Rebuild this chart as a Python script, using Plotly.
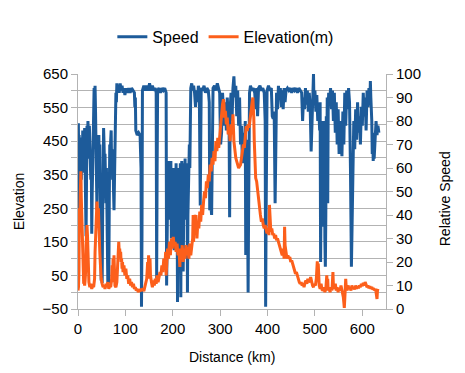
import plotly.graph_objects as go

# ---- Speed (relative, right axis) ----
speed_km = [0, 0.8, 1.6, 2.4, 3.2, 4, 5, 6, 7, 8, 9, 10, 11, 12, 13, 14, 15, 16, 17, 18, 19, 20,
            21, 22, 23, 24, 25, 26, 27, 28, 29, 30, 31, 32, 33, 34, 35, 36, 37, 38, 39, 40,
            41, 42, 43, 44, 45, 46, 47, 48, 49, 50, 51, 52, 53, 54, 55, 56, 57, 58, 59, 60,
            61, 62, 63, 64, 65, 66, 67, 68, 69, 70, 71, 72, 73, 74, 75, 76, 77, 78, 79, 80,
            81, 82, 83, 85, 87, 89, 91, 93, 95, 97, 99, 101, 104, 107, 110, 113, 116, 119, 120,
            121, 122, 125, 128, 131, 133, 134, 135, 136, 139, 142, 145, 148, 151, 154, 157, 160,
            163, 165, 166, 167, 168, 171, 174, 177, 180, 183, 186, 187, 188, 189, 190, 191, 192,
            193, 194, 195, 196, 197, 198, 199, 200, 201, 202, 203, 204, 205, 206, 207, 208, 209,
            210, 211, 212, 213, 214, 215, 216, 217, 218, 219, 220, 221, 222, 223, 224, 225, 226,
            227, 228, 229, 230, 231, 232, 233, 234, 235, 236, 237, 238, 240, 242, 244, 246, 248,
            250, 252, 254, 256, 258, 259, 260, 263, 266, 269, 272, 275, 277, 278, 280, 282, 284,
            285, 288, 291, 294, 297, 299, 300, 301, 303, 305, 307, 309, 311, 313, 315, 317, 319,
            320, 321, 323, 325, 327, 329, 331, 333, 335, 337, 339, 341, 343, 345, 347, 349, 351,
            353, 354, 355, 357, 359, 360, 362, 364, 367, 370, 373, 375, 377, 379, 381, 384, 387,
            390, 393, 395, 396, 397, 399, 402, 405, 408, 410, 412, 414, 416, 417, 419, 421, 423,
            425, 427, 429, 431, 433, 435, 437, 439, 442, 445, 448, 451, 454, 457, 460, 463, 466,
            469, 472, 474, 476, 478, 480, 482, 484, 486, 488, 490, 492, 494, 496, 497, 498, 500,
            502, 504, 506, 508, 510, 511, 512, 513, 514, 515, 516, 517, 518, 519, 520, 521, 522,
            523, 524, 525, 526, 527, 528, 529, 531, 533, 535, 537, 539, 541, 543, 545, 547, 549,
            551, 553, 555, 557, 559, 561, 563, 565, 567, 569, 571, 573, 575, 576, 577, 578, 580,
            582, 584, 586, 588, 590, 592, 594, 596, 598, 600, 602, 604, 606, 608, 610, 612, 614,
            616, 617, 618, 620, 621, 622, 623, 624, 625, 627, 629, 631, 633, 635]
speed_val = [12, 79, 60, 74, 48, 70, 40, 66, 55, 73, 60, 76, 64, 72, 58, 77, 66, 45, 31, 55, 78, 70,
             80, 75, 64, 78, 62, 70, 55, 64, 32, 50, 60, 75, 86, 94, 90, 95, 84, 70, 55, 42,
             60, 72, 62, 74, 58, 70, 50, 30, 12, 25, 11, 40, 65, 77, 70, 60, 66, 55, 45, 60,
             35, 20, 11, 18, 11, 45, 70, 64, 72, 76, 60, 68, 55, 65, 50, 42, 55, 70, 82, 92,
             88, 96, 93, 95, 92, 96, 93, 95, 92, 94, 91, 94, 92, 94, 92, 94, 93, 92, 86,
             90, 76, 74, 75, 74, 60, 1, 30, 93, 95, 93, 95, 93, 96, 93, 95, 93,
             94, 92, 13, 60, 93, 94, 92, 94, 93, 94, 92, 10, 30, 55, 63, 45, 60,
             38, 62, 45, 63, 30, 55, 42, 60, 38, 57, 25, 50, 60, 40, 62, 35, 55,
             3, 40, 60, 30, 58, 45, 62, 5, 50, 63, 40, 58, 16, 50, 62, 45, 64,
             38, 58, 48, 62, 7, 40, 55, 65, 70, 60, 80, 94, 96, 93, 95, 92, 86,
             93, 88, 95, 93, 44, 70, 94, 93, 95, 92, 94, 93, 88, 42, 45, 40, 70,
             94, 95, 93, 96, 94, 92, 80, 70, 75, 92, 85, 78, 88, 76, 90, 82, 74,
             39, 85, 92, 80, 94, 99, 90, 95, 82, 93, 78, 90, 70, 78, 62, 75, 65,
             80, 23, 60, 72, 7, 40, 92, 95, 93, 94, 92, 85, 94, 82, 94, 95, 93,
             94, 92, 80, 1, 40, 93, 95, 93, 94, 82, 81, 84, 45, 60, 92, 85, 95,
             90, 94, 86, 93, 85, 94, 88, 93, 94, 93, 94, 92, 94, 93, 94, 92, 94,
             93, 92, 80, 90, 85, 94, 87, 93, 84, 92, 86, 67, 80, 90, 100, 88, 93,
             84, 91, 80, 86, 76, 88, 20, 60, 80, 45, 72, 35, 65, 50, 80, 30, 18,
             40, 82, 60, 90, 45, 84, 92, 88, 94, 85, 93, 80, 92, 75, 88, 70, 85,
             66, 80, 72, 65, 84, 70, 92, 78, 93, 85, 94, 88, 60, 19, 18, 30, 55,
             80, 68, 85, 72, 88, 75, 82, 70, 86, 78, 92, 82, 90, 76, 93, 86, 94,
             88, 97, 90, 80, 66, 75, 63, 70, 64, 72, 80, 74, 78, 75]

# ---- Elevation (m, left axis) ----
elev_km = [0, 1, 2, 3, 4, 5, 6, 7, 8, 9, 10, 11, 12, 13, 14, 15, 16, 17, 18, 19, 20, 21, 22, 23,
           25, 27, 29, 31, 33, 35, 36, 37, 38, 39, 40, 41, 42, 43, 44, 45, 46, 47, 48, 49, 51,
           53, 55, 57, 59, 61, 63, 65, 67, 69, 71, 72, 73, 74, 75, 76, 77, 78, 80, 82, 84, 85,
           86, 87, 88, 89, 90, 91, 92, 93, 94, 95, 97, 99, 101, 103, 105, 107, 109, 111, 113,
           115, 117, 119, 121, 123, 125, 127, 129, 131, 133, 135, 137, 139, 141, 143, 145, 147,
           148, 149, 150, 151, 152, 153, 155, 157, 159, 161, 163, 165, 167, 169, 171, 173, 175,
           177, 179, 181, 183, 185, 186, 187, 189, 191, 193, 195, 197, 199, 201, 203, 205, 207,
           209, 211, 213, 215, 216, 218, 220, 222, 224, 226, 228, 230, 232, 234, 236, 238, 240,
           242, 243, 244, 245, 247, 249, 251, 253, 255, 257, 259, 261, 263, 265, 267, 269, 271,
           273, 275, 277, 279, 281, 283, 285, 287, 289, 291, 293, 295, 297, 299, 301, 303, 305,
           307, 308, 309, 311, 313, 315, 317, 319, 321, 323, 325, 327, 329, 331, 333, 335, 337,
           339, 341, 343, 345, 347, 349, 351, 353, 355, 357, 359, 361, 363, 365, 367, 369, 370,
           371, 372, 373, 374, 375, 377, 379, 381, 383, 385, 387, 389, 391, 393, 395, 397, 399,
           401, 403, 404, 405, 406, 407, 409, 411, 413, 415, 417, 419, 421, 423, 425, 427, 429,
           431, 433, 435, 436, 437, 439, 441, 443, 445, 447, 449, 451, 453, 455, 457, 459, 461,
           463, 465, 467, 469, 471, 473, 475, 477, 479, 481, 483, 485, 487, 489, 491, 493, 495,
           497, 499, 501, 503, 505, 506, 507, 508, 509, 511, 513, 515, 517, 519, 521, 523, 525,
           526, 527, 528, 530, 532, 534, 536, 538, 539, 541, 543, 545, 547, 549, 551, 553, 555,
           557, 559, 560, 561, 562, 563, 564, 565, 566, 568, 570, 572, 574, 576, 578, 580, 582,
           584, 586, 588, 590, 592, 594, 596, 598, 600, 602, 604, 606, 608, 610, 612, 614, 616,
           618, 620, 622, 624, 626, 628, 630, 631, 632, 633]
elev_val = [5, 15, 60, 250, 230, 300, 360, 280, 210, 150, 80, 40, 25, 30, 20, 35, 60, 140, 190, 200, 170, 110, 60, 30,
            15, 25, 10, 20, 15, 40, 120, 180, 150, 230, 270, 240, 200, 250, 180, 150, 120, 90, 60, 40, 25,
            15, 20, 10, 25, 15, 30, 10, 20, 15, 40, 80, 30, 100, 60, 110, 50, 20, 15, 30, 90, 140,
            150, 120, 130, 100, 120, 90, 100, 70, 90, 60, 80, 50, 70, 40, 50, 25, 40, 20, 30,
            15, 25, 10, 15, 5, 10, 0, 8, 2, 10, 5, 12, 3, 15, 20, 40, 90,
            60, 110, 70, 40, 100, 50, 30, 15, 35, 20, 40, 25, 50, 30, 45, 60, 50,
            80, 60, 100, 70, 120, 50, 90, 130, 100, 150, 110, 160, 130, 165, 140, 150, 120,
            145, 110, 130, 75, 130, 100, 140, 90, 130, 100, 140, 110, 135, 100, 145, 110, 130,
            160, 230, 150, 230, 200, 230, 160, 210, 190, 240, 210, 260, 230, 270, 300, 280, 330,
            310, 350, 330, 380, 360, 400, 380, 420, 390, 450, 420, 460, 430, 470, 480, 520, 560,
            575, 560, 520, 540, 500, 520, 470, 490, 450, 500, 470, 530, 450, 420, 400, 390, 380,
            370, 375, 380, 400, 420, 440, 430, 470, 495, 480, 500, 490, 520, 540, 560, 580, 560,
            520, 450, 400, 360, 340, 330, 300, 280, 240, 230, 210, 220, 200, 190, 200, 180, 175,
            190, 170, 260, 230, 200, 180, 190, 170, 175, 160, 170, 155, 160, 150, 140, 130, 120,
            110, 130, 100, 195, 140, 120, 100, 110, 100, 105, 90, 95, 85, 80, 70, 55, 60,
            45, 40, 30, 25, 30, 20, 25, 15, 28, 35, 25, 40, 30, 35, 45, 30, 20,
            15, 25, 20, 40, 92, 60, 85, 40, 20, 10, 25, 8, 5, 15, 0, 10, 50,
            20, 40, 5, 10, 0, 15, 5, 60, 20, 10, 25, 5, 15, 0, 10, 5, 20,
            8, 0, -15, -30, -47, -20, 10, 40, 15, 5, 20, 10, 15, 5, 20, 10, 15,
            8, 20, 10, 18, 12, 20, 15, 25, 18, 28, 20, 30, 22, 15, 20, 12, 18,
            10, 15, 8, 12, 5, 10, -10, -20, 5, 10]

BLUE = "#1d5b9a"
ORANGE = "#fc5f1b"
GRID = "#b3b3b3"
FONT = "Liberation Sans, Arial, sans-serif"

fig = go.Figure()
fig.add_trace(go.Scatter(x=speed_km, y=speed_val, name="Speed", mode="lines",
                         line=dict(color=BLUE, width=3), yaxis="y"))
fig.add_trace(go.Scatter(x=elev_km, y=elev_val, name="Elevation(m)", mode="lines",
                         line=dict(color=ORANGE, width=3), yaxis="y2"))

# The page body has an 8px margin, so the figure is sized 8px smaller to fit
fig.update_layout(
    width=457, height=365,
    margin=dict(l=70, r=79, t=61, b=64),
    paper_bgcolor="white", plot_bgcolor="white",
    font=dict(family=FONT, color="#000000", size=15),
    showlegend=True,
    legend=dict(orientation="h", x=0.48, xanchor="center", y=1.158, yanchor="middle",
                font=dict(size=16), bgcolor="rgba(0,0,0,0)"),
    xaxis=dict(range=[0, 650], tick0=0, dtick=100, ticks="outside", ticklen=6,
               tickcolor=GRID, showline=True, linecolor=GRID, showgrid=False,
               zeroline=False, tickfont=dict(size=15)),
    yaxis=dict(side="right", range=[0, 100], tick0=0, dtick=10, ticks="outside",
               ticklen=6, tickcolor=GRID, showline=True, linecolor=GRID,
               showgrid=False, zeroline=False, tickfont=dict(size=15)),
    yaxis2=dict(overlaying="y", side="left", range=[-50, 650], tick0=-50, dtick=100,
                ticks="outside", ticklen=6, tickcolor=GRID, showline=True,
                linecolor=GRID, showgrid=True, gridcolor=GRID, zeroline=False,
                tickfont=dict(size=15),
                minor=dict(dtick=50, tick0=-50, showgrid=True, gridcolor=GRID,
                           ticks="outside", ticklen=6, tickcolor=GRID)),
    annotations=[
        dict(text="Elevation", xref="paper", yref="paper", x=-0.1916, y=0.458,
             textangle=-90, showarrow=False, font=dict(size=14),
             xanchor="center", yanchor="middle"),
        dict(text="Relative Speed", xref="paper", yref="paper", x=1.1916, y=0.467,
             textangle=-90, showarrow=False, font=dict(size=14),
             xanchor="center", yanchor="middle"),
        dict(text="Distance (km)", xref="paper", yref="paper", x=0.5, y=-0.204,
             showarrow=False, font=dict(size=14), xanchor="center", yanchor="middle"),
    ],
)

fig.write_html("out.html")
